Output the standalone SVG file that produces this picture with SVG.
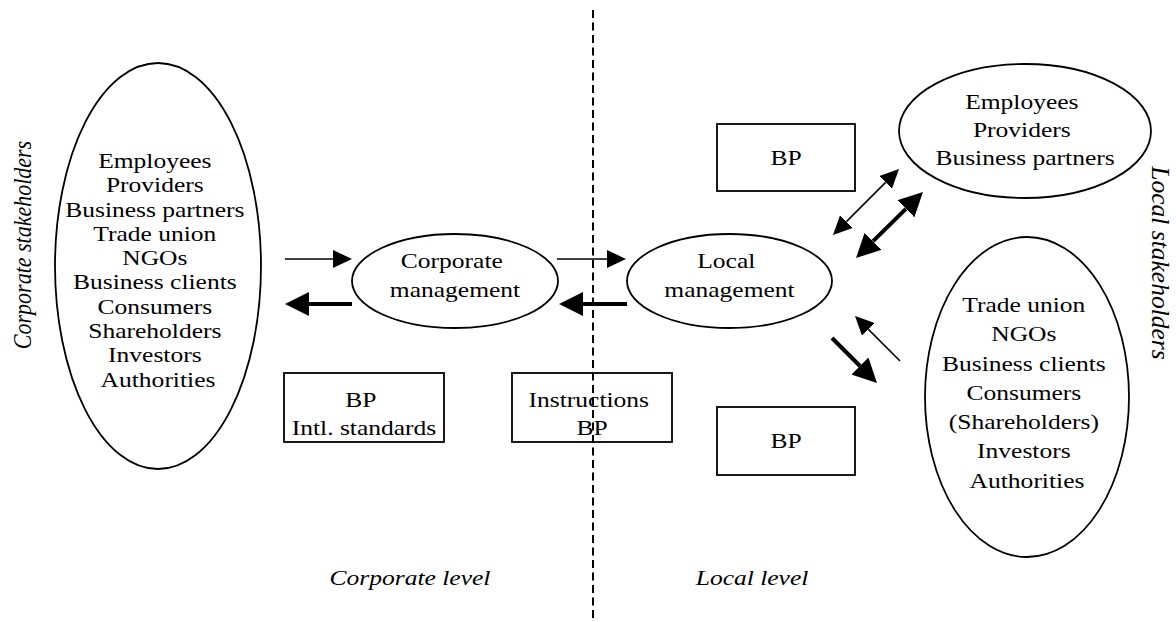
<svg xmlns="http://www.w3.org/2000/svg" width="1176" height="622" viewBox="0 0 1176 622">
  <style>
    .shape { fill: #fff; stroke: #000; stroke-width: 1.8; }
    .t { font-family: "Liberation Serif", "Times New Roman", serif; font-size: 22px; fill: #000; text-anchor: middle; }
    .it { font-style: italic; }
    .thin { stroke: #000; stroke-width: 1.6; fill: none; }
    .thick { stroke: #000; stroke-width: 4; fill: none; }
    .divider { stroke: #000; stroke-width: 2; stroke-dasharray: 8 4.5; }
  </style>
  <defs>
    <marker id="headThin" viewBox="0 -9 19 18" markerWidth="19" markerHeight="18" refX="0" refY="0" orient="auto-start-reverse" markerUnits="userSpaceOnUse">
      <path d="M0,-9 L19,0 L0,9 z" fill="#000"/>
    </marker>
    <marker id="headThick" viewBox="0 -12 24 24" markerWidth="24" markerHeight="24" refX="0" refY="0" orient="auto-start-reverse" markerUnits="userSpaceOnUse">
      <path d="M0,-12 L24,0 L0,12 z" fill="#000"/>
    </marker>
  </defs>

  <rect width="1176" height="622" fill="#fff"/>

  <!-- boundary between corporate and local level -->
  <line class="divider" x1="593" y1="10" x2="593" y2="620"/>

  <!-- side and level labels -->
  <text class="t it" transform="translate(31,245) rotate(-90) scale(1,1.16)">Corporate stakeholders</text>
  <text class="t it" transform="translate(1152,263) rotate(90) scale(1.16,1.16)">Local stakeholders</text>
  <text class="t it" transform="translate(410,585) scale(1.16,1)">Corporate level</text>
  <text class="t it" transform="translate(752,585) scale(1.16,1)">Local level</text>

  <g id="corporate-stakeholders">
    <ellipse class="shape" cx="158" cy="266" rx="103" ry="203"/>
    <text class="t" transform="translate(158,168) scale(1.16,1)">
      <tspan x="0" dy="0">Employees</tspan>
      <tspan x="0" dy="24.3">Providers</tspan>
      <tspan x="0" dy="24.3">Business partners</tspan>
      <tspan x="0" dy="24.3">Trade union</tspan>
      <tspan x="0" dy="24.3">NGOs</tspan>
      <tspan x="0" dy="24.3">Business clients</tspan>
      <tspan x="0" dy="24.3">Consumers</tspan>
      <tspan x="0" dy="24.3">Shareholders</tspan>
      <tspan x="0" dy="24.3">Investors</tspan>
      <tspan x="0" dy="24.3">Authorities</tspan>
    </text>
  </g>

  <g id="corporate-management">
    <ellipse class="shape" cx="455" cy="281" rx="103" ry="47"/>
    <text class="t" transform="translate(455,268) scale(1.16,1)">
      <tspan x="0" dy="0">Corporate</tspan>
      <tspan x="0" dy="29">management</tspan>
    </text>
  </g>

  <g id="local-management">
    <ellipse class="shape" cx="729.5" cy="281" rx="102.5" ry="47"/>
    <text class="t" transform="translate(729.5,268) scale(1.16,1)">
      <tspan x="0" dy="0">Local</tspan>
      <tspan x="0" dy="29">management</tspan>
    </text>
  </g>

  <g id="bp-standards">
    <rect class="shape" x="284" y="373" width="160" height="69"/>
    <text class="t" transform="translate(364,407) scale(1.16,1)">
      <tspan x="0" dy="0">BP</tspan>
      <tspan x="0" dy="28">Intl. standards</tspan>
    </text>
  </g>

  <g id="instructions-bp">
    <rect class="shape" x="512" y="373" width="160" height="69" style="fill:none"/>
    <text class="t" transform="translate(592,407) scale(1.16,1)">
      <tspan x="0" dy="0">Instructions</tspan>
      <tspan x="0" dy="28">BP</tspan>
    </text>
  </g>

  <g id="bp-upper">
    <rect class="shape" x="717" y="124" width="138" height="67"/>
    <text class="t" transform="translate(786,165) scale(1.16,1)">BP</text>
  </g>

  <g id="bp-lower">
    <rect class="shape" x="717" y="407" width="138" height="68"/>
    <text class="t" transform="translate(786,448) scale(1.16,1)">BP</text>
  </g>

  <g id="local-partners">
    <ellipse class="shape" cx="1025" cy="131" rx="126" ry="67"/>
    <text class="t" transform="translate(1025,109) scale(1.16,1)">
      <tspan x="0" dy="0">Employees</tspan>
      <tspan x="0" dy="28">Providers</tspan>
      <tspan x="0" dy="28">Business partners</tspan>
    </text>
  </g>

  <g id="local-society">
    <ellipse class="shape" cx="1027" cy="397" rx="102" ry="160"/>
    <text class="t" transform="translate(1027,312) scale(1.16,1)">
      <tspan x="0" dy="0">Trade union</tspan>
      <tspan x="0" dy="29.3">NGOs</tspan>
      <tspan x="0" dy="29.3">Business clients</tspan>
      <tspan x="0" dy="29.3">Consumers</tspan>
      <tspan x="0" dy="29.3">(Shareholders)</tspan>
      <tspan x="0" dy="29.3">Investors</tspan>
      <tspan x="0" dy="29.3">Authorities</tspan>
    </text>
  </g>

  <g id="connectors">
    <line class="thin" x1="285" y1="259" x2="333" y2="259" marker-end="url(#headThin)"/>
    <line class="thick" x1="352" y1="304" x2="309" y2="304" marker-end="url(#headThick)"/>
    <line class="thin" x1="557" y1="259" x2="607" y2="259" marker-end="url(#headThin)"/>
    <line class="thick" x1="627" y1="304" x2="583" y2="304" marker-end="url(#headThick)"/>
    <line class="thin" x1="846.4" y1="221.6" x2="885.6" y2="182.4" marker-start="url(#headThin)" marker-end="url(#headThin)"/>
    <line class="thick" x1="873.1" y1="241.2" x2="905.9" y2="208.8" marker-start="url(#headThick)" marker-end="url(#headThick)"/>
    <line class="thick" x1="832" y1="338" x2="860" y2="366" marker-end="url(#headThick)"/>
    <line class="thin" x1="900" y1="361" x2="868.4" y2="329.4" marker-end="url(#headThin)"/>
  </g>
</svg>
